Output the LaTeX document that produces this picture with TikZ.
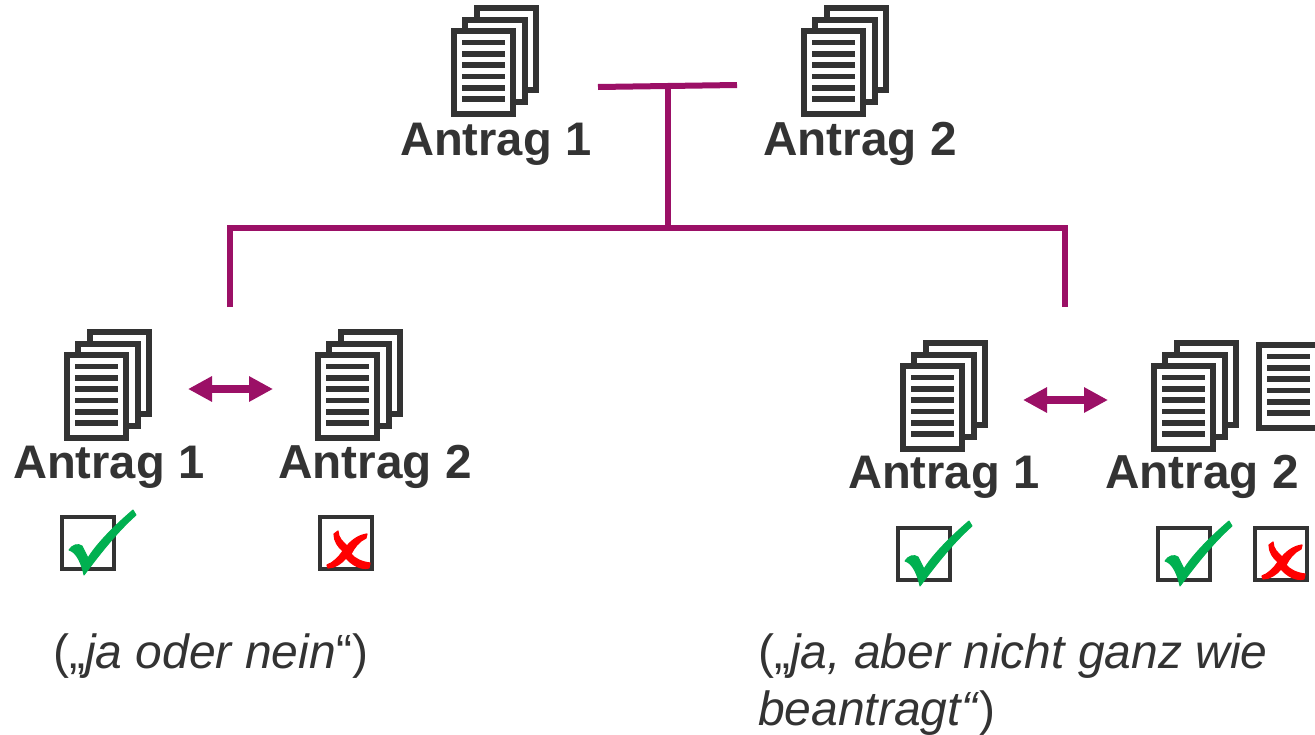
\documentclass[tikz,border=0pt]{standalone}
\usepackage{fontspec}
\setmainfont{Liberation Sans}
\usetikzlibrary{arrows.meta}
\definecolor{ink}{HTML}{333333}
\definecolor{plum}{HTML}{9B1066}
\definecolor{okgreen}{HTML}{00B050}
\definecolor{nored}{HTML}{FF0000}
\tikzset{
  x=1pt,y=-1pt,
  page/.style={draw=ink,fill=white,line width=6pt,line join=miter},
  textline/.style={fill=ink},
  tree/.style={draw=plum,line width=6pt},
  both/.style={draw=plum,line width=8pt,{Triangle[length=24pt,width=24pt,fill=plum]}-{Triangle[length=24pt,width=24pt,fill=plum]}},
  title/.style={font=\fontsize{47.7}{47.7}\selectfont\bfseries,text=ink,anchor=base west,inner sep=0pt},
  titleone/.style={title,font=\fontsize{47.1}{47.1}\selectfont\bfseries},
  note/.style={font=\fontsize{48}{48}\selectfont,text=ink,anchor=base west,inner sep=0pt},
  tick/.style={draw=ink,fill=white,line width=4pt},
  onepage/.pic={
    \path[page] (3,3) rectangle (62,86);
    \foreach \yy in {14.3,25.7,37,48.3,59.7,71}
      \fill[textline] (11,\yy-2.8) rectangle (54,\yy+2.8);
  },
  docstack/.pic={
    \path[page] (26,-20) rectangle (85,62);
    \path[page] (14,-8) rectangle (74,74);
    \pic at (0,0) {onepage};
  },
  yes/.pic={
    \path[tick] (2,2) rectangle (54,54);
    \filldraw[okgreen,line width=1pt,line join=round] (9,35) .. controls (12,30) and (18,28) .. (22,31) -- (28,43)
      .. controls (36,30) and (52,13) .. (73,-5) -- (76,0)
      .. controls (58,16) and (42,36) .. (24,60)
      .. controls (22,50) and (17,37) .. (9,35) -- cycle;
  },
  no/.pic={
    \path[tick] (2,2) rectangle (54,54);
    \filldraw[nored,line width=1.2pt,line join=round] (16,19) -- (20,16) .. controls (20,23) and (25,27) .. (29,31)
      .. controls (34,25) and (41,20) .. (49,19) -- (48,23)
      .. controls (41,26) and (36,33) .. (33,39)
      .. controls (37,44) and (44,47) .. (52,48) -- (51,53)
      .. controls (43,55) and (34,50) .. (28,43)
      .. controls (24,48) and (17,53) .. (10,53) -- (9,50)
      .. controls (15,48) and (21,42) .. (25,36)
      .. controls (20,32) and (16,26) .. (16,19) -- cycle;
  },
}
\begin{document}
\begin{tikzpicture}
\useasboundingbox (0,0) rectangle (1315,734);
\clip (0,0) rectangle (1315,734);
% tree
\coordinate (barL) at (598,87);
\coordinate (barR) at (737,85);
\coordinate (barM) at (668,86);
\coordinate (hub) at (668,227.5);
\coordinate (armL) at (230,227.5);
\coordinate (armR) at (1065,227.5);
\coordinate (endL) at (230,307);
\coordinate (endR) at (1065,307);
\draw[tree] (barL) -- (barR);
\draw[tree] (barM) -- (hub);
\draw[tree,line join=miter] (endL) -- (armL) -- (armR) -- (endR);
% documents
\pic at (451,28) {docstack};
\pic at (801,28) {docstack};
\pic at (64,352) {docstack};
\pic at (315,352) {docstack};
\pic at (900,363) {docstack};
\pic at (1151,363) {docstack};
\pic at (1256,342) {onepage};
% double arrows
\coordinate (la) at (188,389);
\coordinate (lb) at (273,389);
\coordinate (ra) at (1023,400);
\coordinate (rb) at (1108,400);
\draw[both] (la) -- (lb);
\draw[both] (ra) -- (rb);
% labels
\node[titleone] (t1) at (400,155) {Antrag 1};
\node[title] (t2) at (763,155) {Antrag 2};
\node[titleone] (l1) at (13,478) {Antrag 1};
\node[title] (l2) at (278,478) {Antrag 2};
\node[titleone] (r1) at (848,488) {Antrag 1};
\node[title] (r2) at (1105,488) {Antrag 2};
% check boxes
\pic at (60,515) {yes};
\pic at (318,515) {no};
\pic at (896,526) {yes};
\pic at (1156,526) {yes};
\pic at (1253,526) {no};
% notes
\node[note] (n1) at (53,668) {(„\textit{ja oder nein}“)};
\node[note] (n2) at (758,668) {(„\textit{ja, aber nicht ganz wie}};
\node[note] (n3) at (758,725) {\textit{beantragt“})};
\end{tikzpicture}
\end{document}
